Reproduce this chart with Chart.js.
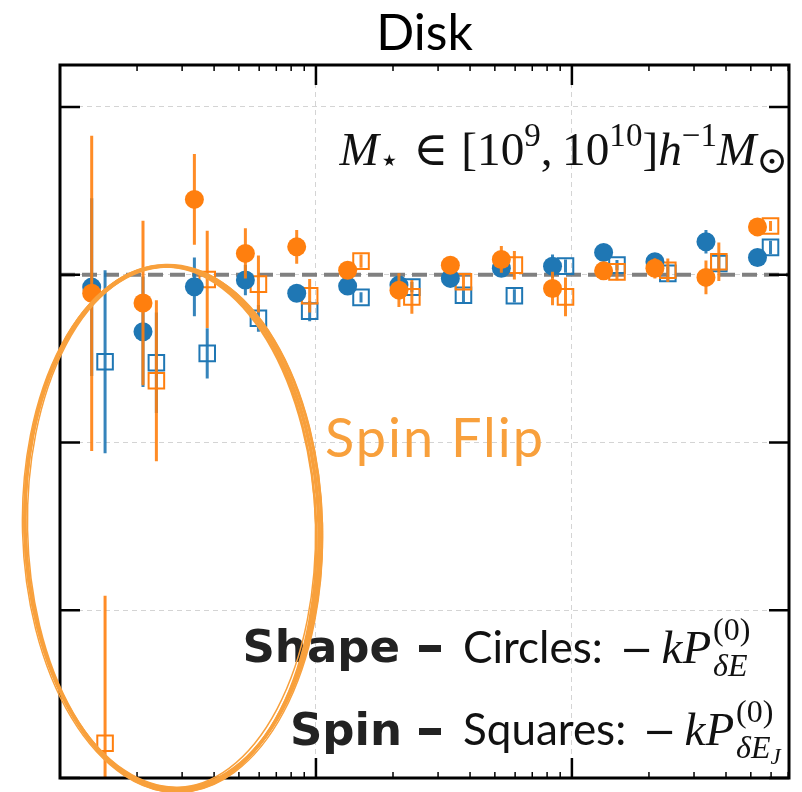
<!DOCTYPE html>
<html>
<head>
<meta charset="utf-8">
<script src="https://cdn.jsdelivr.net/npm/chart.js@4/dist/chart.umd.min.js"></script>
<style>
  html, body { margin: 0; padding: 0; background: #fff; }
</style>
</head>
<body>
<canvas id="myChart" width="802" height="792"></canvas>
<script>
// k bins (circles and the slightly shifted squares)
var kCircle = [1.33, 2.11, 3.35, 5.30, 8.41, 13.3, 21.1, 33.5, 53.0, 84.0, 133, 211, 334, 531];
var kSquare = [1.50, 2.38, 3.76, 5.96, 9.45, 15.0, 23.7, 37.7, 59.6, 94.4, 150, 237, 375, 597];

// shape: circles
var shapeBlue     = [-0.074, -0.340, -0.072, -0.032, -0.111, -0.068, -0.062, -0.022, 0.038, 0.051, 0.133, 0.077, 0.196, 0.103];
var shapeBlueErr  = [0.53, 0.33, 0.175, 0.09, 0.05, 0.04, 0.04, 0.04, 0.05, 0.07, 0.04, 0.05, 0.07, 0.04];
var shapeOrange    = [-0.111, -0.169, 0.449, 0.127, 0.166, 0.027, -0.092, 0.057, 0.091, -0.082, 0.023, 0.038, -0.016, 0.285];
var shapeOrangeErr = [0.94, 0.49, 0.27, 0.15, 0.10, 0.04, 0.10, 0.03, 0.08, 0.10, 0.04, 0.06, 0.10, 0.03];

// spin: squares
var spinBlue     = [-0.519, -0.525, -0.469, -0.260, -0.217, -0.135, -0.074, -0.122, -0.126, 0.051, 0.057, 0.008, 0.067, 0.163];
var spinBlueErr  = [0.545, 0.30, 0.15, 0.08, 0.06, 0.03, 0.03, 0.05, 0.04, 0.04, 0.03, 0.04, 0.05, 0.04];
var spinOrange    = [-2.793, -0.632, -0.028, -0.056, -0.126, 0.081, -0.132, -0.042, 0.057, -0.132, 0.017, 0.027, 0.077, 0.290];
var spinOrangeErr = [0.88, 0.48, 0.29, 0.17, 0.10, 0.04, 0.10, 0.05, 0.085, 0.115, 0.05, 0.07, 0.115, 0.03];

var yTicks = [-3, -2, -1, 0, 1];
var xMajorTicks = [10, 100];
var xMinorTicks = [2, 3, 4, 5, 6, 7, 8, 9, 20, 30, 40, 50, 60, 70, 80, 90, 200, 300, 400, 500, 600, 700];

var BLUE = '#1f77b4', ORANGE = '#ff7f0e', NOTE = '#f8a03c';

function pts(xs, ys) {
  return xs.map(function (x, i) { return { x: x, y: ys[i] }; });
}

var serif  = function (s) { return s + 'px "Liberation Serif", "DejaVu Serif", serif'; };
var serifI = function (s) { return 'italic ' + s + 'px "Liberation Serif", "DejaVu Serif", serif'; };

function partWidth(ctx, p) {
  if (p.gap !== undefined) return p.gap;
  if (p.stack) return Math.max.apply(null, p.stack.map(function (s) { return partsWidth(ctx, s); }));
  ctx.font = p.font;
  return ctx.measureText(p.t).width;
}
function partsWidth(ctx, parts) {
  var w = 0;
  parts.forEach(function (p) { w += partWidth(ctx, p); });
  return w;
}
function drawParts(ctx, parts, x, y, color) {
  parts.forEach(function (p) {
    var w = partWidth(ctx, p);
    if (p.stack) {
      p.stack.forEach(function (s) { drawParts(ctx, s, x, y, color); });
    } else if (p.gap === undefined) {
      ctx.font = p.font;
      ctx.fillStyle = p.color || color;
      ctx.fillText(p.t, x, y + (p.dy || 0));
    }
    x += w;
  });
}

function massLabel(S) {
  var s = S * 0.7, up = -S * 0.40;
  return [
    { t: 'M', font: serifI(S) }, { t: '\u22c6', font: serif(s), dy: S * 0.12 },
    { gap: S * 0.28 }, { t: '\u2208', font: serif(S) }, { gap: S * 0.28 },
    { t: '[10', font: serif(S) }, { t: '9', font: serif(s), dy: up },
    { t: ',', font: serif(S) }, { gap: S * 0.2 },
    { t: '10', font: serif(S) }, { t: '10', font: serif(s), dy: up },
    { t: ']', font: serif(S) }, { t: 'h', font: serifI(S) },
    { t: '\u22121', font: serif(s), dy: up },
    { t: 'M', font: serifI(S) }, { t: '\u2299', font: serif(S * 0.8), dy: S * 0.16 }
  ];
}

function mathP(subParts) {
  return [
    { t: '\u2212', font: '40px "DejaVu Serif", serif' }, { gap: 8 },
    { t: 'k', font: serifI(47) }, { t: 'P', font: serifI(47) }, { gap: 2 },
    { stack: [
      [{ t: '(0)', font: serif(32), dy: -23 }],
      subParts
    ] }
  ];
}

var errorBars = {
  id: 'errorBars',
  beforeDatasetDraw: function (chart, args) {
    var ds = chart.data.datasets[args.index];
    if (!ds.errors) return;
    var ctx = chart.ctx, xs = chart.scales.x, ys = chart.scales.y, a = chart.chartArea;
    ctx.save();
    ctx.beginPath();
    ctx.rect(a.left, a.top, a.right - a.left, a.bottom - a.top);
    ctx.clip();
    ctx.strokeStyle = ds.borderColor;
    ctx.globalAlpha = 0.9;
    ctx.lineWidth = 3;
    ctx.beginPath();
    ds.data.forEach(function (p, i) {
      var px = xs.getPixelForValue(p.x);
      ctx.moveTo(px, ys.getPixelForValue(p.y - ds.errors[i]));
      ctx.lineTo(px, ys.getPixelForValue(p.y + ds.errors[i]));
    });
    ctx.stroke();
    ctx.restore();
  }
};

var decorations = {
  id: 'decorations',
  beforeDatasetsDraw: function (chart) {
    var ctx = chart.ctx, a = chart.chartArea, y0 = chart.scales.y.getPixelForValue(0);
    ctx.save();
    ctx.strokeStyle = '#808080';
    ctx.lineWidth = 4;
    ctx.setLineDash([15, 7]);
    ctx.beginPath();
    ctx.moveTo(a.left, y0);
    ctx.lineTo(a.right, y0);
    ctx.stroke();
    ctx.restore();
  },
  afterDraw: function (chart) {
    var ctx = chart.ctx, a = chart.chartArea, xs = chart.scales.x, ys = chart.scales.y;
    ctx.save();
    // ticks, pointing inward
    ctx.strokeStyle = '#000';
    ctx.lineWidth = 2.5;
    ctx.beginPath();
    yTicks.forEach(function (v) {
      var py = ys.getPixelForValue(v);
      ctx.moveTo(a.left, py); ctx.lineTo(a.left + 20, py);
      ctx.moveTo(a.right, py); ctx.lineTo(a.right - 20, py);
    });
    xMajorTicks.forEach(function (v) {
      var px = xs.getPixelForValue(v);
      ctx.moveTo(px, a.top); ctx.lineTo(px, a.top + 20);
      ctx.moveTo(px, a.bottom); ctx.lineTo(px, a.bottom - 20);
    });
    ctx.stroke();
    ctx.lineWidth = 1.5;
    ctx.beginPath();
    xMinorTicks.forEach(function (v) {
      var px = xs.getPixelForValue(v);
      ctx.moveTo(px, a.top); ctx.lineTo(px, a.top + 6);
      ctx.moveTo(px, a.bottom); ctx.lineTo(px, a.bottom - 6);
    });
    ctx.stroke();
    // frame
    ctx.lineWidth = 3;
    ctx.strokeRect(a.left, a.top, a.right - a.left, a.bottom - a.top);

    // mass range label
    ctx.textBaseline = 'alphabetic';
    var ml = massLabel(46);
    var S = 46 * 448 / partsWidth(ctx, ml);
    ml = massLabel(S);
    drawParts(ctx, ml, 788 - partsWidth(ctx, ml), 165, '#111');

    // Spin Flip
    ctx.font = '54px Lato, sans-serif';
    ctx.fillStyle = NOTE;
    if ('letterSpacing' in ctx) ctx.letterSpacing = '2px';
    ctx.fillText('Spin Flip', 325, 457);
    if ('letterSpacing' in ctx) ctx.letterSpacing = '0px';

    // Shape / Spin explanation lines
    ctx.font = 'bold 45px "DejaVu Sans", sans-serif';
    ctx.fillStyle = '#222';
    ctx.textAlign = 'right';
    ctx.fillText('Shape', 400, 662);
    ctx.fillText('Spin', 402, 745);
    ctx.textAlign = 'left';
    ctx.font = 'bold 56px "DejaVu Sans", sans-serif';
    ctx.fillText('\u2013', 416, 664);
    ctx.fillText('\u2013', 416, 747);
    ctx.font = '44px Lato, sans-serif';
    ctx.fillStyle = '#111';
    ctx.fillText('Circles:', 463, 663);
    ctx.fillText('Squares:', 463, 745);
    drawParts(ctx, mathP([{ t: '\u03b4E', font: serifI(32), dy: 13 }]), 620, 663, '#111');
    drawParts(ctx, mathP([{ t: '\u03b4E', font: serifI(32), dy: 13 }, { t: 'J', font: serifI(23), dy: 19 }]), 643, 745, '#111');

    // hand drawn ellipse
    ctx.strokeStyle = NOTE;
    var strokes = [
      [0, 0, 0, 0, 0, 3.5],
      [1.2, -0.8, 1.5, -1, 0.006, 3],
      [-1.2, 1.2, -1.5, 0.8, -0.005, 2.5],
      [0.5, 0.5, 3, 2, 0.003, 1.5],
      [-0.5, -1, -3, -1.5, 0.01, 1.5]
    ];
    strokes.forEach(function (s) {
      ctx.lineWidth = s[5];
      ctx.beginPath();
      ctx.ellipse(172 + s[0], 528 + s[1], 147 + s[2], 262 + s[3], -0.03 + s[4], 0, Math.PI * 2);
      ctx.stroke();
    });
    ctx.restore();
  }
};

var ctx = document.getElementById('myChart').getContext('2d');
var myChart = new Chart(ctx, {
  type: 'scatter',
  data: {
    datasets: [{
      label: 'Shape (orange)',
      data: pts(kCircle, shapeOrange),
      errors: shapeOrangeErr,
      pointStyle: 'circle', pointRadius: 9.5, borderWidth: 0,
      backgroundColor: ORANGE, borderColor: ORANGE,
      order: 1
    }, {
      label: 'Shape (blue)',
      data: pts(kCircle, shapeBlue),
      errors: shapeBlueErr,
      pointStyle: 'circle', pointRadius: 9.5, borderWidth: 0,
      backgroundColor: BLUE, borderColor: BLUE,
      order: 2
    }, {
      label: 'Spin (orange)',
      data: pts(kSquare, spinOrange),
      errors: spinOrangeErr,
      pointStyle: 'rect', pointRadius: 11, borderWidth: 2,
      backgroundColor: 'rgba(0,0,0,0)', borderColor: ORANGE,
      order: 3
    }, {
      label: 'Spin (blue)',
      data: pts(kSquare, spinBlue),
      errors: spinBlueErr,
      pointStyle: 'rect', pointRadius: 11, borderWidth: 2,
      backgroundColor: 'rgba(0,0,0,0)', borderColor: BLUE,
      order: 4
    }]
  },
  options: {
    responsive: false,
    animation: false,
    events: [],
    layout: { padding: { left: 60, right: 11, top: 0, bottom: 14 } },
    plugins: {
      legend: { display: false },
      tooltip: { enabled: false },
      title: {
        display: true,
        text: 'Disk',
        fullSize: false,
        color: '#000',
        font: { family: 'Lato', size: 50, weight: 'normal', lineHeight: 1 },
        padding: { top: 9, bottom: 6 }
      }
    },
    scales: {
      x: {
        type: 'logarithmic',
        min: 1,
        max: 705,
        afterBuildTicks: function (scale) {
          scale.ticks = xMajorTicks.map(function (v) { return { value: v }; });
        },
        ticks: { display: false },
        grid: { color: '#d4d4d4', lineWidth: 1, drawTicks: false },
        border: { display: false, dash: [5, 4] }
      },
      y: {
        min: -3,
        max: 1.25,
        afterBuildTicks: function (scale) {
          scale.ticks = yTicks.map(function (v) { return { value: v }; });
        },
        ticks: { display: false },
        grid: { color: '#d4d4d4', lineWidth: 1, drawTicks: false },
        border: { display: false, dash: [5, 4] }
      }
    }
  },
  plugins: [errorBars, decorations]
});
</script>
</body>
</html>
